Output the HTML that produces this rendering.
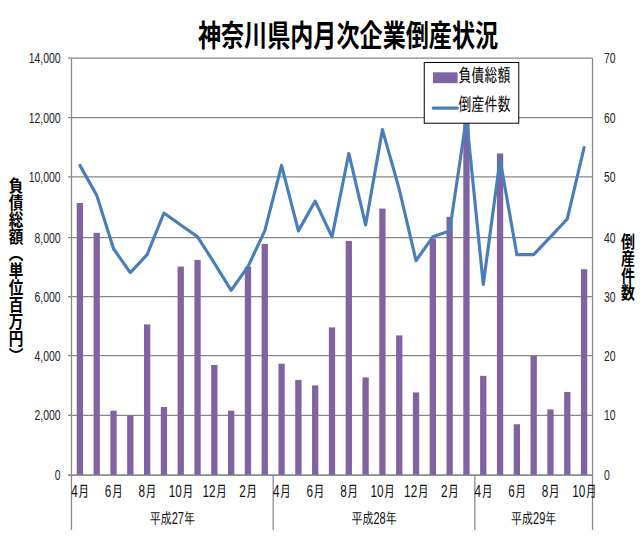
<!DOCTYPE html><html><head><meta charset="utf-8"><title>神奈川県内月次企業倒産状況</title>
<style>html,body{margin:0;padding:0;background:#fff}body{width:640px;height:536px;overflow:hidden}svg{display:block}.n{font-family:"Liberation Sans","Noto Sans CJK JP",sans-serif;font-size:14.5px;fill:#222}.j{font-family:"Liberation Sans","IPAGothic","Noto Sans CJK JP",sans-serif;font-size:15.6px;fill:#111}.t{font-family:"Liberation Sans","Noto Sans CJK JP",sans-serif;font-weight:bold;font-size:30px;fill:#000}.v{font-family:"Liberation Sans","Noto Sans CJK JP",sans-serif;font-weight:bold;font-size:17px;fill:#000;writing-mode:vertical-rl}.l{font-family:"Liberation Sans","IPAGothic","Noto Sans CJK JP",sans-serif;font-size:18.8px;fill:#000}.vt{position:absolute;width:20px;line-height:20px;font-family:"Liberation Sans","Noto Sans CJK JP",sans-serif;font-weight:bold;font-size:17px;color:#000;writing-mode:vertical-rl;white-space:nowrap;transform-origin:50% 0}body{position:relative}</style></head><body>
<svg width="640" height="536" viewBox="0 0 640 536">
<rect width="640" height="536" fill="#fff"/>
<g stroke="#878787" stroke-width="1.25" fill="none">
<line x1="68.0" y1="475.00" x2="592.5" y2="475.00"/>
<line x1="68.0" y1="415.30" x2="592.5" y2="415.30"/>
<line x1="68.0" y1="355.60" x2="592.5" y2="355.60"/>
<line x1="68.0" y1="296.50" x2="592.5" y2="296.50"/>
<line x1="68.0" y1="237.50" x2="592.5" y2="237.50"/>
<line x1="68.0" y1="176.90" x2="592.5" y2="176.90"/>
<line x1="68.0" y1="117.60" x2="592.5" y2="117.60"/>
<line x1="68.0" y1="58.20" x2="592.5" y2="58.20"/>
<line x1="71.5" y1="58.2" x2="71.5" y2="530"/>
<line x1="592.5" y1="58.2" x2="592.5" y2="530"/>
<line x1="273.18" y1="475.0" x2="273.18" y2="530"/>
<line x1="474.85" y1="475.0" x2="474.85" y2="530"/>
</g>
<g fill="#8064A2">
<rect x="76.75" y="203.07" width="6.3" height="271.93"/>
<rect x="93.56" y="232.84" width="6.3" height="242.16"/>
<rect x="110.37" y="410.69" width="6.3" height="64.31"/>
<rect x="127.17" y="415.46" width="6.3" height="59.54"/>
<rect x="143.98" y="324.39" width="6.3" height="150.61"/>
<rect x="160.79" y="406.94" width="6.3" height="68.06"/>
<rect x="177.59" y="266.60" width="6.3" height="208.40"/>
<rect x="194.40" y="259.84" width="6.3" height="215.16"/>
<rect x="211.20" y="364.94" width="6.3" height="110.06"/>
<rect x="228.01" y="410.69" width="6.3" height="64.31"/>
<rect x="244.82" y="266.60" width="6.3" height="208.40"/>
<rect x="261.62" y="243.97" width="6.3" height="231.03"/>
<rect x="278.43" y="363.68" width="6.3" height="111.32"/>
<rect x="295.24" y="379.94" width="6.3" height="95.06"/>
<rect x="312.04" y="385.45" width="6.3" height="89.55"/>
<rect x="328.85" y="327.39" width="6.3" height="147.61"/>
<rect x="345.66" y="241.00" width="6.3" height="234.00"/>
<rect x="362.46" y="377.44" width="6.3" height="97.56"/>
<rect x="379.27" y="208.55" width="6.3" height="266.45"/>
<rect x="396.08" y="335.40" width="6.3" height="139.60"/>
<rect x="412.88" y="392.44" width="6.3" height="82.56"/>
<rect x="429.69" y="238.59" width="6.3" height="236.41"/>
<rect x="446.50" y="216.82" width="6.3" height="258.18"/>
<rect x="463.30" y="99.88" width="6.3" height="375.12"/>
<rect x="480.11" y="375.86" width="6.3" height="99.14"/>
<rect x="496.91" y="153.47" width="6.3" height="321.53"/>
<rect x="513.72" y="424.21" width="6.3" height="50.79"/>
<rect x="530.53" y="355.91" width="6.3" height="119.09"/>
<rect x="547.33" y="409.44" width="6.3" height="65.56"/>
<rect x="564.14" y="391.94" width="6.3" height="83.06"/>
<rect x="580.95" y="269.25" width="6.3" height="205.75"/>
</g>
<line x1="68.0" y1="475.0" x2="592.5" y2="475.0" stroke="#878787" stroke-width="1.25"/>
<polyline points="79.90,165.38 96.71,195.15 113.52,248.74 130.32,272.55 147.13,254.69 163.94,213.01 180.74,224.92 197.55,236.83 214.35,263.03 231.16,290.42 247.97,266.60 264.77,230.87 281.58,165.38 298.39,230.87 315.19,201.10 332.00,236.83 348.81,153.47 365.61,224.92 382.42,129.65 399.23,189.19 416.03,260.65 432.84,236.83 449.65,230.87 466.45,117.74 483.26,284.46 500.06,159.42 516.87,254.69 533.68,254.69 550.48,236.83 567.29,218.97 584.10,147.51" fill="none" stroke="#4A7EBB" stroke-width="3.15" stroke-linejoin="round" stroke-linecap="round"/>
<text class="n" text-anchor="end" transform="translate(60.6,480.10) scale(0.72,1)">0</text>
<text class="n" text-anchor="start" transform="translate(604,480.10) scale(0.72,1)">0</text>
<text class="n" text-anchor="end" transform="translate(60.6,420.40) scale(0.72,1)">2,000</text>
<text class="n" text-anchor="start" transform="translate(604,420.40) scale(0.72,1)">10</text>
<text class="n" text-anchor="end" transform="translate(60.6,360.70) scale(0.72,1)">4,000</text>
<text class="n" text-anchor="start" transform="translate(604,360.70) scale(0.72,1)">20</text>
<text class="n" text-anchor="end" transform="translate(60.6,301.60) scale(0.72,1)">6,000</text>
<text class="n" text-anchor="start" transform="translate(604,301.60) scale(0.72,1)">30</text>
<text class="n" text-anchor="end" transform="translate(60.6,242.60) scale(0.72,1)">8,000</text>
<text class="n" text-anchor="start" transform="translate(604,242.60) scale(0.72,1)">40</text>
<text class="n" text-anchor="end" transform="translate(60.6,182.00) scale(0.72,1)">10,000</text>
<text class="n" text-anchor="start" transform="translate(604,182.00) scale(0.72,1)">50</text>
<text class="n" text-anchor="end" transform="translate(60.6,122.70) scale(0.72,1)">12,000</text>
<text class="n" text-anchor="start" transform="translate(604,122.70) scale(0.72,1)">60</text>
<text class="n" text-anchor="end" transform="translate(60.6,63.30) scale(0.72,1)">14,000</text>
<text class="n" text-anchor="start" transform="translate(604,63.30) scale(0.72,1)">70</text>
<text class="j" text-anchor="middle" transform="translate(80.40,497.4) scale(0.755,1)">4月</text>
<text class="j" text-anchor="middle" transform="translate(114.02,497.4) scale(0.755,1)">6月</text>
<text class="j" text-anchor="middle" transform="translate(147.63,497.4) scale(0.755,1)">8月</text>
<text class="j" text-anchor="middle" transform="translate(181.24,497.4) scale(0.755,1)">10月</text>
<text class="j" text-anchor="middle" transform="translate(214.85,497.4) scale(0.755,1)">12月</text>
<text class="j" text-anchor="middle" transform="translate(248.47,497.4) scale(0.755,1)">2月</text>
<text class="j" text-anchor="middle" transform="translate(282.08,497.4) scale(0.755,1)">4月</text>
<text class="j" text-anchor="middle" transform="translate(315.69,497.4) scale(0.755,1)">6月</text>
<text class="j" text-anchor="middle" transform="translate(349.31,497.4) scale(0.755,1)">8月</text>
<text class="j" text-anchor="middle" transform="translate(382.92,497.4) scale(0.755,1)">10月</text>
<text class="j" text-anchor="middle" transform="translate(416.53,497.4) scale(0.755,1)">12月</text>
<text class="j" text-anchor="middle" transform="translate(450.15,497.4) scale(0.755,1)">2月</text>
<text class="j" text-anchor="middle" transform="translate(483.76,497.4) scale(0.755,1)">4月</text>
<text class="j" text-anchor="middle" transform="translate(517.37,497.4) scale(0.755,1)">6月</text>
<text class="j" text-anchor="middle" transform="translate(550.98,497.4) scale(0.755,1)">8月</text>
<text class="j" text-anchor="middle" transform="translate(584.60,497.4) scale(0.755,1)">10月</text>
<text class="j" text-anchor="middle" transform="translate(172.34,524) scale(0.705,1)">平成27年</text>
<text class="j" text-anchor="middle" transform="translate(374.02,524) scale(0.705,1)">平成28年</text>
<text class="j" text-anchor="middle" transform="translate(533.68,524) scale(0.705,1)">平成29年</text>
<text class="t" text-anchor="middle" transform="translate(348,46) scale(0.77,1)">神奈川県内月次企業倒産状況</text>
<rect x="424.25" y="62.5" width="94.5" height="60.7" fill="#fff" stroke="#000" stroke-width="1"/>
<rect x="433" y="72.3" width="24.6" height="10.9" fill="#8064A2"/>
<line x1="433.3" y1="108.1" x2="457.2" y2="108.1" stroke="#4A7EBB" stroke-width="3.3" stroke-linecap="round"/>
<text class="l" transform="translate(458.2,82.3) scale(0.696,1)">負債総額</text>
<text class="l" transform="translate(458.2,110.9) scale(0.696,1)">倒産件数</text>
</svg>
<div class="vt" style="left:4.1px;top:176.8px;transform:scaleX(0.86)">負債総額（単位百万円）</div>
<div class="vt" style="left:615.5px;top:233px;transform:scaleX(0.82)">倒産件数</div>
</body></html>
